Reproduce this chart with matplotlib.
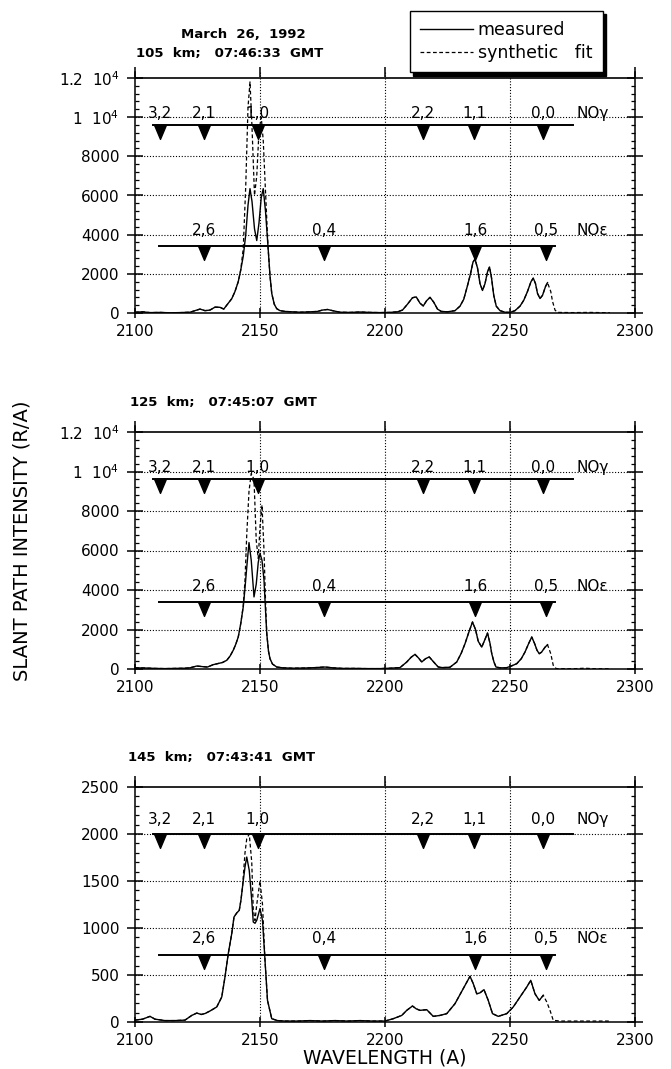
import matplotlib
matplotlib.use('Agg')
import matplotlib.pyplot as plt
from matplotlib.ticker import MultipleLocator, FixedLocator

plt.rcParams['font.family'] = ['DejaVu Sans']

# ---- spectra: 105 km ----
wl_105 = [2100, 2103, 2106, 2110, 2114, 2118, 2122, 2124, 2126, 2128, 2130, 2132, 2134, 2135.5,
          2137, 2138.7, 2140, 2141.3, 2142.3, 2143.3, 2144.3, 2145.2, 2146, 2146.8, 2147.8,
          2148.7, 2149.6, 2150.5, 2151.3, 2152.2, 2153.2, 2154, 2154.7, 2155.7, 2156.7, 2158,
          2160, 2163, 2166, 2170, 2173, 2175, 2177, 2179, 2182, 2186, 2190, 2194, 2198, 2202,
          2205, 2207, 2209, 2211, 2212.5, 2214, 2215.3, 2216.6, 2218, 2219.5, 2221, 2222.5,
          2225, 2228, 2230, 2231.5, 2233, 2234.2, 2235.2, 2236, 2237, 2238, 2239, 2240, 2241,
          2241.8, 2242.6, 2243.5, 2244.5, 2246, 2248, 2250, 2252, 2254, 2255.5, 2257, 2258.4,
          2259.3, 2260.2, 2261, 2262, 2263, 2264.2, 2265,
          2266.3, 2267, 2268, 2269, 2275, 2282, 2290]
meas_105 = [40, 60, 20, 30, 10, 20, 40, 120, 200, 120, 150, 300, 290, 200,
            450, 730, 1100, 1600, 2200, 2900, 4000, 5500, 6350, 5700, 4300,
            3700, 4600, 5900, 6350, 5200, 3400, 1900, 1000, 450, 220, 120,
            80, 60, 40, 60, 80, 150, 180, 120, 40, 30, 50, 30, 20, 30,
            60, 150, 450, 780, 820, 500, 360, 620, 800, 550, 200, 80,
            60, 120, 350, 700, 1400, 2000, 2600, 2750, 2300, 1500, 1150, 1500, 2100,
            2350, 1800, 900, 350, 120, 40, 30, 120, 350, 650, 1100, 1600,
            1780, 1500, 1000, 740, 900, 1350, 1550]
fit_105 = [40, 60, 20, 30, 10, 20, 40, 120, 200, 120, 150, 300, 290, 200,
           450, 730, 1100, 1600, 2200, 3300, 6500, 10500, 11800, 9500, 6000,
           7000, 9300, 10000, 8800, 6200, 3400, 1900, 1000, 450, 220, 120,
           80, 60, 40, 60, 80, 150, 180, 120, 40, 30, 50, 30, 20, 30,
           60, 150, 450, 780, 820, 500, 360, 620, 800, 550, 200, 80,
           60, 120, 350, 700, 1400, 2000, 2600, 2750, 2300, 1500, 1150, 1500, 2100,
           2350, 1800, 900, 350, 120, 40, 30, 120, 350, 650, 1100, 1600,
           1780, 1500, 1000, 740, 900, 1350, 1550,
           1100, 600, 150, 30, 20, 30, 10]

# ---- spectra: 125 km ----
wl_125 = [2100, 2104, 2108, 2112, 2116, 2120, 2122, 2124.7, 2127, 2129, 2131.3, 2133, 2135,
          2136.7, 2138, 2139.3, 2140.3, 2141.3, 2142.3, 2143.3, 2144, 2144.7, 2145.6, 2146.5,
          2147.6, 2148.5, 2149.3, 2150, 2150.8, 2151.6, 2152.2, 2152.7, 2153.4, 2154, 2155,
          2156.7, 2159, 2163, 2168, 2172, 2176, 2179, 2183, 2188, 2193, 2198, 2202, 2206,
          2208.7, 2210.5, 2212, 2213.4, 2214.7, 2216.2, 2217.7, 2219.5, 2221.3, 2223, 2226,
          2228.7, 2230.5, 2232, 2233.5, 2235, 2236.2, 2237.3, 2238.7, 2240, 2241, 2242,
          2242.7, 2243.6, 2244.4, 2246, 2248.5, 2250.5, 2252.7, 2254.5, 2256, 2257.5, 2258.7,
          2259.8, 2260.8, 2261.7, 2262.6, 2264, 2265,
          2266.3, 2267.3, 2268.5, 2275, 2280, 2284, 2290]
meas_125 = [60, 50, 30, 20, 30, 40, 60, 150, 120, 100, 220, 270, 330,
            440, 650, 950, 1250, 1620, 2300, 3140, 4100, 5150, 6400, 5500,
            3650, 4300, 5400, 5850, 5500, 4500, 3000, 1800, 900, 520, 250,
            100, 60, 40, 50, 70, 100, 60, 30, 30, 20, 20, 40, 70,
            355, 600, 740, 560, 355, 520, 610, 350, 100, 70, 90,
            355, 800, 1280, 1850, 2380, 2000, 1400, 1110, 1500, 1820, 1300,
            775, 350, 100, 60, 60, 150, 270, 520, 860, 1300, 1620,
            1300, 950, 775, 850, 1100, 1230]
fit_125 = [60, 50, 30, 20, 30, 40, 60, 150, 120, 100, 220, 270, 330,
           440, 650, 950, 1250, 1620, 2300, 3200, 4500, 6800, 9000, 9900,
           9600, 6500, 5600, 7200, 8300, 6000, 3500, 1800, 900, 520, 250,
           100, 60, 40, 50, 70, 100, 60, 30, 30, 20, 20, 40, 70,
           355, 600, 740, 560, 355, 520, 610, 350, 100, 70, 90,
           355, 800, 1280, 1850, 2380, 2000, 1400, 1110, 1500, 1820, 1300,
           775, 350, 100, 60, 60, 150, 270, 520, 860, 1300, 1620,
           1300, 950, 775, 850, 1100, 1230,
           775, 185, 20, 10, 40, 10, 10]

# ---- spectra: 145 km ----
wl_145 = [2100, 2103, 2106, 2108, 2112, 2116, 2120, 2122.7, 2124.7, 2126.5, 2128, 2130,
          2132.7, 2134.7, 2136, 2137.3, 2138.7, 2139.6, 2140.7, 2141.7, 2142.4, 2143, 2144,
          2144.7, 2145.7, 2146.7, 2147.3, 2148, 2148.7, 2150, 2151, 2152, 2153, 2154.7,
          2157, 2160, 2165, 2170, 2175, 2180, 2185, 2190, 2195, 2200, 2203.3, 2206.7,
          2208.7, 2211, 2212.5, 2214, 2216.7, 2219.3, 2222, 2224.7, 2228, 2231.3, 2234,
          2235.3, 2236.7, 2238, 2239.6, 2241.3, 2243, 2245.3, 2248.7, 2251.3, 2254, 2256.7,
          2258.3, 2260, 2261.7, 2263.3,
          2264.7, 2266, 2267.3, 2270, 2280, 2290]
meas_145 = [20, 30, 60, 30, 15, 15, 20, 70, 95, 80, 90, 117,
            160, 266, 480, 727, 940, 1117, 1160, 1188, 1300, 1436, 1650,
            1755, 1613, 1294, 1064, 1050, 1082, 1206, 1082, 656, 230, 35,
            15, 10, 10, 15, 10, 15, 10, 15, 10, 10, 35, 70,
            124, 170, 140, 124, 131, 60, 70, 89, 195, 355, 486,
            408, 300, 310, 344, 230, 89, 60, 89, 160, 266, 372,
            443, 300, 230, 284]
fit_145 = [20, 30, 60, 30, 15, 15, 20, 70, 95, 80, 90, 117,
           160, 266, 480, 727, 940, 1117, 1160, 1188, 1300, 1436, 1800,
           1950, 2000, 1700, 1200, 1080, 1250, 1500, 1250, 656, 230, 35,
           15, 10, 10, 15, 10, 15, 10, 15, 10, 10, 35, 70,
           124, 170, 140, 124, 131, 60, 70, 89, 195, 355, 486,
           408, 300, 310, 344, 230, 89, 60, 89, 160, 266, 372,
           443, 300, 230, 284,
           213, 124, 18, 10, 10, 10]

# band heads
gamma_bands = ['3,2', '2,1', '1,0', '2,2', '1,1', '0,0']
gamma_wl = [2110, 2127.5, 2149, 2215, 2235.7, 2263.2]
eps_bands = ['2,6', '0,4', '1,6', '0,5']
eps_wl = [2127.5, 2175.5, 2236, 2264.5]

yticks_big = [0, 2000, 4000, 6000, 8000, 10000, 12000]
ylabels_big = ['0', '2000', '4000', '6000', '8000', r'1  10$^4$', r'1.2  10$^4$']
yticks_small = [0, 500, 1000, 1500, 2000, 2500]
ylabels_small = ['0', '500', '1000', '1500', '2000', '2500']

W, H = 671, 1069
fig = plt.figure(figsize=(W / 100, H / 100), dpi=100)

tri = [(-0.42, 0), (0.42, 0), (0, -1), (-0.42, 0)]


def panel(top_px, bot_px, wl, meas, fit, yticks, ylabels, minor, g_level, e_level, g_txt, e_txt):
    ext = 6
    ax = fig.add_axes([135 / W, 1 - bot_px / H, 500 / W, (bot_px - top_px + ext) / H])
    top = yticks[-1]
    ax.set_xlim(2100, 2300)
    ax.set_ylim(0, top * (bot_px - top_px + ext) / (bot_px - top_px))
    ax.spines['top'].set_visible(False)
    for s in ['left', 'right', 'bottom']:
        ax.spines[s].set_linewidth(1.1)

    # dotted grid + solid top line
    for v in yticks[1:-1]:
        ax.axhline(v, color='k', lw=0.8, ls=(0, (1, 1.6)), zorder=1)
    for v in [2150, 2200, 2250]:
        ax.axvline(v, color='k', lw=0.8, ls=(0, (1, 1.6)), zorder=1)
    ax.axhline(top, color='k', lw=1.2, zorder=2)

    ax.yaxis.set_major_locator(FixedLocator(yticks))
    ax.set_yticklabels(ylabels)
    ax.yaxis.set_minor_locator(MultipleLocator(minor))
    ax.set_xticks([2100, 2150, 2200, 2250, 2300])
    ax.tick_params(axis='y', which='major', direction='inout', length=11.5, width=1.1,
                   left=True, right=True, labelsize=11, pad=5.5)
    ax.tick_params(axis='y', which='minor', direction='in', length=3, width=0.9,
                   left=True, right=True)
    ax.tick_params(axis='x', which='major', direction='inout', length=7, width=1.1,
                   bottom=True, top=True, labelsize=11, pad=4.5)

    n = len(meas)
    ax.plot(wl[:n], meas, color='k', lw=1.0, zorder=4)
    ax.plot(wl, fit, color='k', lw=0.9, ls=(0, (3, 2)), zorder=3)

    # NO gamma / NO epsilon band markers
    ax.plot([2107, 2275], [g_level, g_level], color='k', lw=1.4, zorder=5)
    ax.plot([2109.5, 2268], [e_level, e_level], color='k', lw=1.4, zorder=5)
    ax.plot(gamma_wl, [g_level] * len(gamma_wl), ls='none', marker=tri, ms=20,
            color='k', zorder=6)
    ax.plot(eps_wl, [e_level] * len(eps_wl), ls='none', marker=tri, ms=20,
            color='k', zorder=6)
    for lab, x in zip(gamma_bands, gamma_wl):
        ax.text(x, g_txt, lab, ha='center', va='center', fontsize=11, zorder=7)
    for lab, x in zip(eps_bands, eps_wl):
        ax.text(x, e_txt, lab, ha='center', va='center', fontsize=11, zorder=7)
    ax.text(2283, g_txt, 'NOγ', ha='center', va='center', fontsize=11, zorder=7)
    ax.text(2283, e_txt, 'NOε', ha='center', va='center', fontsize=11, zorder=7)
    return ax


ax1 = panel(78, 313, wl_105, meas_105, fit_105, yticks_big, ylabels_big, 400,
            9600, 3400, 10200, 4200)
ax2 = panel(432, 669, wl_125, meas_125, fit_125, yticks_big, ylabels_big, 400,
            9600, 3400, 10200, 4200)
ax3 = panel(787, 1022, wl_145, meas_145, fit_145, yticks_small, ylabels_small, 100,
            2000, 710, 2150, 885)

# headings
bold = dict(fontsize=9.5, fontweight='bold', va='center')
fig.text(243 / W, 1 - 34 / H, 'March  26,  1992', ha='center', **bold)
fig.text(136 / W, 1 - 54 / H, '105  km;   07:46:33  GMT', ha='left', **bold)
fig.text(130 / W, 1 - 402 / H, '125  km;   07:45:07  GMT', ha='left', **bold)
fig.text(128 / W, 1 - 758 / H, '145  km;   07:43:41  GMT', ha='left', **bold)

fig.text(22 / W, 1 - 541 / H, 'SLANT PATH INTENSITY (R/A)', rotation=90,
         ha='center', va='center', fontsize=14)
fig.text(385 / W, 1 - 1058 / H, 'WAVELENGTH (A)', ha='center', va='center', fontsize=13.5)

# legend box with drop shadow
h1, = ax1.plot([], [], color='k', lw=1.0)
h2, = ax1.plot([], [], color='k', lw=0.9, ls=(0, (3, 2)))
leg = fig.legend([h1, h2], ['measured', 'synthetic   fit'], loc='upper left',
                 bbox_to_anchor=(410 / W, 1 - 11 / H), fontsize=12.5, frameon=True,
                 fancybox=False, edgecolor='k', framealpha=1, borderaxespad=0,
                 borderpad=0.6, labelspacing=0.25, handlelength=3.0, handletextpad=0.3,
                 shadow={'color': 'k', 'alpha': 1, 'ox': 2.5, 'oy': -2.5})
leg.get_frame().set_linewidth(1.0)

fig.savefig('out.png', dpi=100)
